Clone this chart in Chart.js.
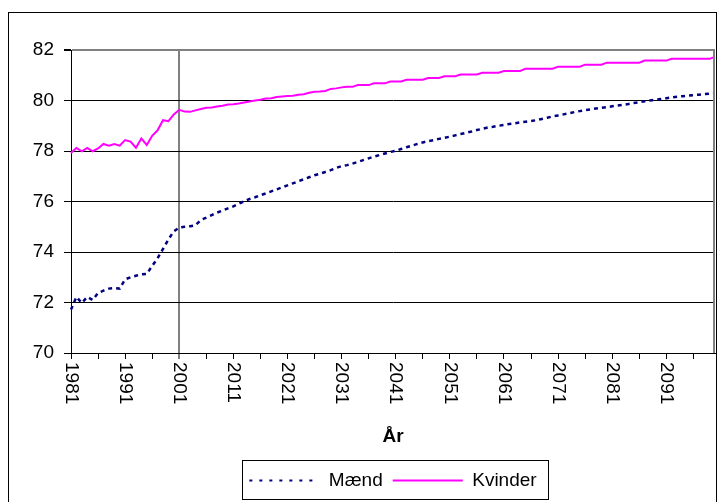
<!DOCTYPE html>
<html>
<head>
<meta charset="utf-8">
<script src="https://cdn.jsdelivr.net/npm/chart.js@4"></script>
<style>
  html, body { margin: 0; padding: 0; background: #fff; }
  #wrap { width: 718px; height: 502px; }
</style>
</head>
<body>
<div id="wrap"><canvas id="c" width="718" height="502"></canvas></div>
<script>
const years = [
  '1981','1982','1983','1984','1985','1986','1987','1988','1989','1990',
  '1991','1992','1993','1994','1995','1996','1997','1998','1999','2000',
  '2001','2002','2003','2004','2005','2006','2007','2008','2009','2010',
  '2011','2012','2013','2014','2015','2016','2017','2018','2019','2020',
  '2021','2022','2023','2024','2025','2026','2027','2028','2029','2030',
  '2031','2032','2033','2034','2035','2036','2037','2038','2039','2040',
  '2041','2042','2043','2044','2045','2046','2047','2048','2049','2050',
  '2051','2052','2053','2054','2055','2056','2057','2058','2059','2060',
  '2061','2062','2063','2064','2065','2066','2067','2068','2069','2070',
  '2071','2072','2073','2074','2075','2076','2077','2078','2079','2080',
  '2081','2082','2083','2084','2085','2086','2087','2088','2089','2090',
  '2091','2092','2093','2094','2095','2096','2097','2098','2099','2100'
];

const maend = [
  71.72, 72.22, 71.98, 72.22, 72.10, 72.38, 72.47, 72.55, 72.57, 72.55,
  72.92, 73.00, 73.06, 73.12, 73.13, 73.45, 73.75, 74.12, 74.50, 74.82,
  74.97, 75.00, 75.02, 75.06, 75.27, 75.36, 75.46, 75.56, 75.64, 75.73,
  75.81, 75.91, 76.01, 76.10, 76.17, 76.25, 76.32, 76.40, 76.48, 76.56,
  76.64, 76.72, 76.80, 76.88, 76.96, 77.04, 77.10, 77.17, 77.24, 77.33,
  77.40, 77.44, 77.50, 77.57, 77.64, 77.71, 77.78, 77.84, 77.90, 77.96,
  78.01, 78.08, 78.15, 78.21, 78.28, 78.34, 78.39, 78.43, 78.48, 78.52,
  78.57, 78.62, 78.67, 78.72, 78.77, 78.83, 78.88, 78.93, 78.96, 79.00,
  79.03, 79.07, 79.10, 79.13, 79.16, 79.19, 79.22, 79.27, 79.32, 79.37,
  79.41, 79.45, 79.49, 79.54, 79.58, 79.62, 79.65, 79.68, 79.71, 79.74,
  79.77, 79.80, 79.83, 79.86, 79.90, 79.93, 79.97, 80.00, 80.03, 80.06,
  80.09, 80.12, 80.15, 80.17, 80.19, 80.21, 80.23, 80.25, 80.27, 80.29
];

const kvinder = [
  77.92, 78.12, 77.99, 78.12, 77.99, 78.10, 78.28, 78.21, 78.28, 78.21,
  78.43, 78.37, 78.13, 78.50, 78.24, 78.60, 78.82, 79.22, 79.18, 79.45,
  79.63, 79.56, 79.55, 79.61, 79.66, 79.71, 79.72, 79.76, 79.79, 79.84,
  79.85, 79.88, 79.92, 79.96, 80.00, 80.03, 80.08, 80.09, 80.14, 80.16,
  80.18, 80.19, 80.23, 80.25, 80.31, 80.35, 80.36, 80.38, 80.46, 80.48,
  80.52, 80.54, 80.54, 80.61, 80.61, 80.61, 80.68, 80.68, 80.68, 80.75,
  80.75, 80.75, 80.82, 80.82, 80.82, 80.82, 80.89, 80.89, 80.89, 80.96,
  80.96, 80.96, 81.03, 81.03, 81.03, 81.03, 81.10, 81.10, 81.10, 81.10,
  81.17, 81.17, 81.17, 81.17, 81.26, 81.26, 81.26, 81.26, 81.26, 81.26,
  81.34, 81.34, 81.34, 81.34, 81.34, 81.42, 81.42, 81.42, 81.42, 81.50,
  81.50, 81.50, 81.50, 81.50, 81.50, 81.50, 81.58, 81.58, 81.58, 81.58,
  81.58, 81.65, 81.65, 81.65, 81.65, 81.65, 81.65, 81.65, 81.65, 81.73
];

const seriesNames = ['Mænd', 'Kvinder'];
const xTitle = 'År';
const yMin = 70, yMax = 82, yStep = 2;
const labelEvery = 10, tickEvery = 5, markYear = '2001';

const FONT = '"Liberation Sans", Arial, sans-serif';

const decorPlugin = {
  id: 'decor',
  afterDraw(chart) {
    const ctx = chart.ctx;
    const ca = chart.chartArea;
    const xs = chart.scales.x;
    ctx.save();
    // plot area right edge (gray)
    ctx.strokeStyle = '#808080';
    ctx.lineWidth = 2;
    ctx.beginPath();
    ctx.moveTo(ca.right - 1, ca.top - 1);
    ctx.lineTo(ca.right - 1, ca.bottom);
    ctx.stroke();
    // rotated x labels (reading downward)
    ctx.fillStyle = '#000';
    ctx.font = '19px ' + FONT;
    ctx.textAlign = 'left';
    ctx.textBaseline = 'middle';
    xs.ticks.forEach((t, i) => {
      if (!t.label) return;
      const x = xs.getPixelForTick(i);
      ctx.save();
      ctx.translate(x, xs.top + 9);
      ctx.rotate(Math.PI / 2);
      ctx.fillText(t.label, 0, 0);
      ctx.restore();
    });
    // legend frame
    const lg = chart.legend;
    if (lg && lg.legendHitBoxes && lg.legendHitBoxes.length) {
      let l = Infinity, r = -Infinity;
      lg.legendHitBoxes.forEach(h => { l = Math.min(l, h.left); r = Math.max(r, h.left + h.width); });
      ctx.strokeStyle = '#000';
      ctx.lineWidth = 1;
      ctx.strokeRect(Math.round(l - 7) + 0.5, Math.round(lg.top - 1) + 0.5, Math.round(r - l + 19), Math.round(lg.bottom - lg.top));
    }
    // outer chart border
    ctx.strokeStyle = '#000';
    ctx.lineWidth = 1;
    ctx.strokeRect(8.5, 12.5, 708, 500);
    ctx.restore();
  }
};

new Chart(document.getElementById('c'), {
  type: 'line',
  data: {
    labels: years,
    datasets: [
      {
        label: seriesNames[0],
        data: maend,
        borderColor: '#000080',
        backgroundColor: '#000080',
        borderWidth: 2.5,
        borderDash: [4, 4],
        pointRadius: 0,
        pointStyle: 'line',
        tension: 0,
        fill: false
      },
      {
        label: seriesNames[1],
        data: kvinder,
        borderColor: '#FF00FF',
        backgroundColor: '#FF00FF',
        borderWidth: 2,
        pointRadius: 0,
        pointStyle: 'line',
        tension: 0,
        fill: false
      }
    ]
  },
  options: {
    responsive: false,
    animation: false,
    devicePixelRatio: 1,
    layout: { padding: { left: 0, right: 3, top: 50, bottom: 2 } },
    plugins: {
      tooltip: { enabled: false },
      legend: {
        position: 'bottom',
        fullSize: false,
        labels: {
          usePointStyle: true,
          pointStyle: 'line',
          pointStyleWidth: 70,
          boxWidth: 70,
          boxHeight: 19,
          padding: 10,
          color: '#000',
          font: { family: FONT, size: 19 },
          generateLabels(chart) {
            const items = Chart.defaults.plugins.legend.labels.generateLabels(chart);
            items.forEach(it => {
              const ds = chart.data.datasets[it.datasetIndex];
              it.strokeStyle = ds.borderColor;
              it.lineWidth = 2;
              it.lineDash = ds.borderDash ? [3, 7] : [];
            });
            return items;
          }
        }
      }
    },
    scales: {
      x: {
        type: 'category',
        offset: false,
        afterFit(scale) {
          scale.height = 108;
          scale.paddingLeft = 0;
          scale.paddingRight = 0;
        },
        border: { display: true, color: '#000', width: 1 },
        grid: {
          drawOnChartArea: true,
          drawTicks: true,
          tickLength: 6,
          color: c => (years[c.index] === markYear ? '#808080' : 'rgba(0,0,0,0)'),
          lineWidth: c => (years[c.index] === markYear ? 2 : 1),
          tickColor: c => (c.index % tickEvery === 0 ? '#000' : 'rgba(0,0,0,0)'),
          tickWidth: 1
        },
        ticks: {
          autoSkip: false,
          minRotation: 90,
          maxRotation: 90,
          padding: 3,
          color: 'rgba(0,0,0,0)',
          font: { family: FONT, size: 19 },
          callback: (v, i) => (i % labelEvery === 0 ? years[i] : '')
        },
        title: {
          display: true,
          text: xTitle,
          color: '#000',
          font: { family: FONT, size: 19, weight: 'bold' },
          padding: { top: 4, bottom: 13 }
        }
      },
      y: {
        min: yMin,
        max: yMax,
        afterFit(scale) { scale.width = 71; },
        border: { display: true, color: '#000', width: 1 },
        grid: {
          color: c => (c.tick && c.tick.value === yMax ? '#808080' : '#000'),
          lineWidth: c => (c.tick && c.tick.value === yMax ? 2 : 1),
          tickColor: '#000',
          tickLength: 7
        },
        ticks: {
          stepSize: yStep,
          padding: 10,
          color: '#000',
          font: { family: FONT, size: 19 }
        }
      }
    }
  },
  plugins: [decorPlugin]
});
</script>
</body>
</html>
